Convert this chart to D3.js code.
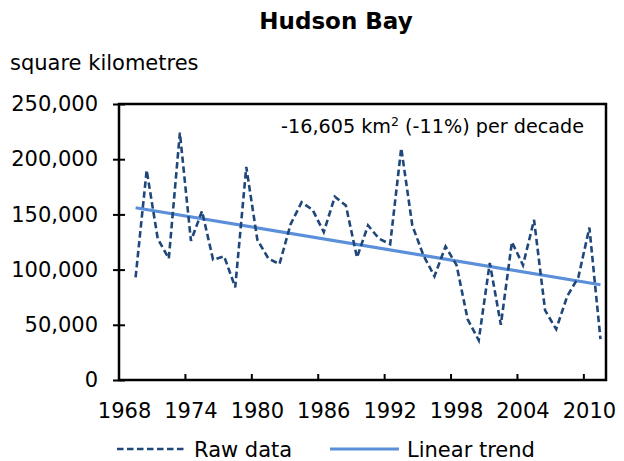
<!DOCTYPE html>
<html>
<head>
<meta charset="utf-8">
<script src="https://cdn.jsdelivr.net/npm/d3@7"></script>
<style>
  body { margin: 0; background: #fff; }
  text { font-family: Verdana, "DejaVu Sans", sans-serif; fill: #000; }
</style>
</head>
<body>
<script>
// categories on the x axis (first year has no value)
let years = d3.range(1968, 2012);
let rawValues = [null,
  93000, 190000, 128000, 110000, 224000, 126000, 153000, 109000, 112000, 84000,
  193000, 127000, 110000, 105000, 141000, 161000, 154000, 134000, 166000, 158000,
  111000, 140000, 128000, 123000, 210000, 140000, 113000, 94000, 121000, 104000,
  55000, 36000, 106000, 50000, 125000, 104000, 145000, 63000, 46000, 76000,
  93000, 138000, 37000];
// linear trend end points
let trendPoints = [[1969, 156000], [2011, 86260]];
let yTicks = [0, 50000, 100000, 150000, 200000, 250000];
let xLabelYears = [1968, 1974, 1980, 1986, 1992, 1998, 2004, 2010];
let legendItems = ["Raw data", "Linear trend"];

const W = 624, H = 461;
const pLeft = 119, pRight = 606, pTop = 104, pBottom = 380;
const rawColor = "#1f477a", trendColor = "#5b8fd9";
const fs = "21px";

let svg = d3.select("body").append("svg")
  .attr("width", W).attr("height", H);

let x = d3.scaleBand().domain(years).range([pLeft, pRight]).padding(0);
let xc = d => x(d) + x.bandwidth() / 2;
let y = d3.scaleLinear().domain([0, 250000]).range([pBottom, pTop]);

// title + unit
svg.append("text").attr("x", 336).attr("y", 29)
  .attr("text-anchor", "middle").attr("font-weight", "bold")
  .attr("font-size", "23px").text("Hudson Bay");
svg.append("text").attr("x", 10).attr("y", 70)
  .attr("font-size", fs).text("square kilometres");

// y axis
let yAxis = svg.append("g")
  .attr("transform", `translate(${pLeft},0)`)
  .call(d3.axisLeft(y).tickValues(yTicks).tickFormat(d3.format(",")).tickSize(6).tickPadding(15));
yAxis.select(".domain").remove();
yAxis.selectAll(".tick line").attr("x1", 6).attr("stroke", "#000").attr("stroke-width", 2);
yAxis.selectAll(".tick text").attr("font-size", fs).attr("font-family", "Verdana, 'DejaVu Sans', sans-serif").attr("fill", "#000");

// x ticks at category boundaries every 6 years, labels at category centres
let xTickYears = years.filter((d, i) => i > 0 && i % 6 == 0);
svg.append("g").selectAll("line")
  .data(xTickYears).enter().append("line")
  .attr("x1", d => x(d)).attr("x2", d => x(d))
  .attr("y1", pBottom).attr("y2", pBottom - 6)
  .attr("stroke", "#000").attr("stroke-width", 2);
svg.append("g").selectAll("text")
  .data(xLabelYears).enter().append("text")
  .attr("x", d => xc(d)).attr("y", 418)
  .attr("text-anchor", "middle").attr("font-size", fs)
  .text(d => d);

// frame
svg.append("rect")
  .attr("x", pLeft).attr("y", pTop)
  .attr("width", pRight - pLeft).attr("height", pBottom - pTop)
  .attr("fill", "none").attr("stroke", "#000").attr("stroke-width", 2.5);

// series
let rawData = years.map((d, i) => [d, rawValues[i]]).filter(d => d[1] != null);
let line = d3.line().x(d => xc(d[0])).y(d => y(d[1]));

svg.append("path").datum(trendPoints)
  .attr("d", line).attr("fill", "none")
  .attr("stroke", trendColor).attr("stroke-width", 3.2);
svg.append("path").datum(rawData)
  .attr("d", line).attr("fill", "none")
  .attr("stroke", rawColor).attr("stroke-width", 2.6)
  .attr("stroke-dasharray", "6.5,3.5");

// annotation
let ann = svg.append("text").attr("x", 584).attr("y", 133)
  .attr("text-anchor", "end").attr("font-size", "19.2px");
ann.append("tspan").text("-16,605 km");
ann.append("tspan").attr("font-size", "12.5px").attr("dy", -7).text("2");
ann.append("tspan").attr("dy", 7).text(" (-11%) per decade");

// legend
let legend = svg.append("g");
let legX = [117, 330];
legendItems.forEach((name, i) => {
  let g = legend.append("g").attr("transform", `translate(${legX[i]},449)`);
  g.append("line").attr("x1", 0).attr("x2", 69)
    .attr("stroke", i == 0 ? rawColor : trendColor)
    .attr("stroke-width", i == 0 ? 2.6 : 3.2)
    .attr("stroke-dasharray", i == 0 ? "6.5,3.5" : null);
  g.append("text").attr("x", 77).attr("y", 7.5)
    .attr("font-size", fs).text(name);
});
</script>
</body>
</html>
